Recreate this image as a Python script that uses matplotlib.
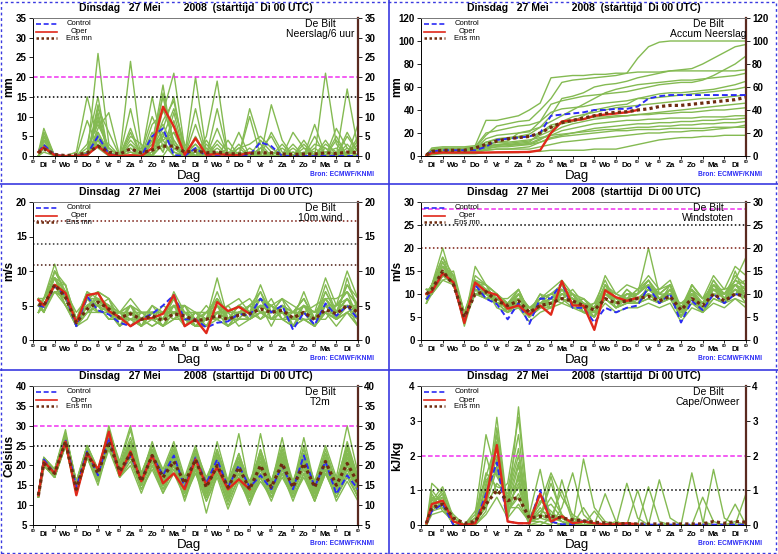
import numpy as np
import matplotlib
matplotlib.use('Agg')
import matplotlib.pyplot as plt
from matplotlib.lines import Line2D
from matplotlib.patches import Rectangle

plt.rcParams['font.family'] = ['Liberation Sans', 'DejaVu Sans']
plt.rcParams['font.weight'] = 'bold'

# forecast steps (hours after Di 00 UTC)
HOURS = [6] + list(range(12, 361, 12))
DAYS = ['Di', 'Wo', 'Do', 'Vr', 'Za', 'Zo', 'Ma', 'Di', 'Wo', 'Do', 'Vr', 'Za', 'Zo', 'Ma', 'Di']
TITLE = 'Dinsdag   27 Mei        2008  (starttijd  Di 00 UTC)'

# --- Neerslag/6 uur (mm) ---
precip_members = [
    [1, 5, 0, 0, 0, 2, 8, 2, 0, 3, 1, 0, 6, 3, 0, 2, 0, 1, 0, 0, 0, 4, 1, 0, 0, 0, 0, 3, 1, 0, 2],
    [1, 7, 0, 0, 0, 0, 26, 3, 0, 1, 0, 2, 9, 14, 1, 0, 3, 0, 0, 0, 2, 0, 0, 0, 1, 0, 0, 0, 0, 2, 0],
    [0, 3, 0, 0, 1, 15, 4, 0, 0, 0, 0, 4, 15, 3, 0, 8, 0, 0, 0, 1, 0, 0, 0, 0, 0, 3, 0, 1, 0, 0, 0],
    [1, 4, 0, 0, 0, 0, 12, 6, 0, 24, 2, 0, 3, 0, 1, 0, 5, 19, 0, 0, 0, 0, 1, 0, 0, 0, 0, 0, 0, 5, 1],
    [0, 6, 0, 0, 0, 1, 3, 0, 0, 2, 0, 8, 11, 21, 2, 0, 0, 0, 4, 0, 0, 0, 0, 2, 0, 0, 5, 0, 0, 0, 0],
    [1, 2, 0, 0, 0, 0, 6, 1, 0, 0, 0, 0, 3, 1, 0, 20, 1, 0, 0, 0, 12, 3, 0, 0, 0, 0, 0, 0, 0, 1, 0],
    [0, 5, 0, 0, 0, 3, 15, 0, 0, 5, 3, 0, 5, 12, 3, 0, 0, 0, 0, 0, 0, 0, 13, 4, 0, 0, 0, 21, 3, 0, 0],
    [1, 3, 0, 0, 0, 0, 10, 0, 0, 12, 0, 15, 2, 6, 0, 3, 0, 2, 0, 0, 0, 0, 0, 0, 6, 2, 0, 0, 0, 17, 2],
    [0, 6, 0, 0, 0, 0, 7, 11, 0, 0, 2, 0, 0, 4, 0, 1, 0, 12, 0, 0, 0, 0, 0, 0, 0, 0, 0, 0, 4, 0, 0],
    [1, 4, 0, 0, 0, 9, 2, 0, 0, 0, 0, 3, 18, 1, 0, 0, 0, 0, 0, 6, 0, 0, 0, 0, 0, 0, 8, 0, 0, 0, 3],
    [0, 1, 0, 0, 0, 0, 13, 0, 0, 7, 0, 6, 1, 9, 0, 2, 0, 0, 0, 0, 0, 2, 5, 0, 0, 0, 0, 0, 7, 2, 0],
    [1, 5, 0, 0, 0, 0, 4, 0, 0, 0, 0, 0, 16, 3, 0, 0, 0, 3, 0, 0, 10, 0, 0, 0, 3, 0, 0, 0, 0, 0, 0],
    [0, 3, 0, 0, 0, 1, 9, 2, 0, 4, 1, 10, 4, 0, 0, 12, 0, 0, 0, 0, 0, 0, 0, 0, 0, 0, 0, 4, 0, 0, 4],
    [1, 2, 0, 0, 0, 0, 5, 0, 0, 0, 0, 2, 7, 15, 0, 0, 4, 0, 0, 2, 0, 0, 0, 0, 0, 0, 2, 0, 0, 0, 0],
    [0, 4, 0, 0, 0, 0, 11, 0, 0, 2, 0, 0, 12, 4, 0, 0, 0, 7, 0, 0, 0, 0, 0, 0, 0, 0, 0, 0, 0, 0, 0],
    [1, 3, 0, 0, 0, 0, 3, 0, 0, 0, 0, 5, 1, 11, 0, 5, 0, 0, 0, 0, 0, 0, 0, 0, 0, 4, 0, 0, 0, 0, 0],
    [0, 2, 0, 0, 0, 0, 5, 1, 0, 3, 0, 2, 4, 6, 1, 3, 0, 1, 0, 2, 3, 5, 2, 0, 1, 0, 3, 2, 0, 6, 1],
    [1, 4, 0, 0, 0, 1, 9, 2, 0, 1, 0, 4, 8, 2, 0, 0, 1, 0, 2, 0, 1, 0, 6, 1, 0, 2, 1, 0, 5, 0, 8],
    [0, 3, 0, 0, 0, 0, 6, 0, 0, 0, 1, 3, 5, 3, 0, 1, 0, 4, 1, 0, 0, 2, 0, 3, 0, 1, 0, 2, 0, 3, 0],
    [1, 5, 0, 0, 0, 0, 4, 0, 0, 6, 0, 1, 6, 2, 0, 0, 2, 0, 0, 3, 0, 1, 0, 0, 2, 0, 0, 1, 2, 0, 5],
]
precip_control = [1, 2.8, 0.3, 0, 0, 0.5, 5, 0.5, 0, 0, 0, 5, 7, 0.2, 0, 2, 0, 0, 0, 0,
                  0.2, 3.5, 2.5, 0, 0, 0, 0, 0, 0, 0, 0]
precip_oper = [1, 2.2, 0.2, 0, 0, 0.3, 2.5, 0.3, 0, 0.2, 0, 2, 12.5, 7.5, 0.3, 4.5, 0.3, 0.5, 0.3, 0.2, 0.8]
precip_mean = [0.8, 1.8, 0.4, 0.1, 0.3, 0.8, 2.5, 1.0, 0.5, 1.8, 0.8, 1.5, 2.5, 2.5, 1.0, 1.3, 0.8, 1.0,
               0.6, 0.5, 0.7, 0.8, 0.8, 0.5, 0.4, 0.5, 0.5, 0.8, 0.6, 1.0, 0.8]

# --- Accum Neerslag (mm) ---
accum_members = [
    [1, 5, 6, 6, 6, 7, 18, 26, 28, 30, 31, 40, 50, 64, 66, 67, 68, 69, 70, 72, 85, 95, 99, 100, 100, 100, 100, 100, 100, 100, 100],
    [1, 4, 5, 5, 5, 6, 12, 15, 16, 17, 19, 25, 35, 50, 52, 55, 60, 62, 63, 65, 68, 70, 72, 74, 75, 76, 80, 85, 90, 95, 97],
    [1, 7, 8, 8, 8, 9, 31, 31, 33, 35, 40, 46, 68, 69, 70, 70, 71, 71, 72, 72, 73, 73, 73, 74, 74, 74, 74, 74, 74, 74, 75],
    [0, 3, 4, 4, 4, 5, 10, 12, 13, 20, 22, 25, 30, 35, 40, 45, 50, 55, 58, 60, 62, 63, 64, 65, 66, 66, 67, 68, 69, 70, 72],
    [1, 5, 6, 6, 6, 6, 15, 18, 19, 20, 21, 30, 45, 48, 50, 52, 53, 54, 55, 56, 58, 60, 62, 63, 64, 64, 66, 70, 75, 80, 87],
    [0, 2, 3, 3, 3, 4, 8, 10, 10, 11, 12, 20, 25, 28, 30, 35, 40, 42, 44, 45, 50, 52, 54, 55, 55, 56, 57, 58, 60, 62, 65],
    [1, 6, 7, 7, 7, 8, 20, 22, 24, 26, 27, 30, 38, 41, 42, 43, 45, 46, 47, 48, 50, 50, 51, 52, 53, 54, 55, 56, 57, 58, 60],
    [1, 4, 5, 5, 5, 5, 9, 10, 11, 12, 13, 18, 22, 30, 34, 36, 38, 40, 42, 43, 44, 45, 46, 47, 48, 49, 50, 50, 51, 52, 53],
    [0, 3, 4, 4, 4, 4, 6, 8, 9, 10, 10, 14, 20, 25, 28, 30, 32, 33, 34, 35, 36, 37, 38, 39, 40, 41, 42, 43, 44, 45, 46],
    [1, 5, 6, 6, 6, 7, 12, 14, 15, 16, 17, 20, 27, 29, 30, 32, 34, 34, 35, 35, 36, 36, 37, 37, 38, 38, 39, 40, 40, 41, 42],
    [1, 4, 5, 5, 5, 5, 8, 9, 10, 10, 11, 15, 18, 22, 24, 26, 28, 29, 30, 31, 31, 32, 32, 33, 33, 33, 34, 34, 34, 35, 35],
    [0, 2, 3, 3, 3, 3, 5, 6, 6, 7, 8, 12, 16, 18, 20, 22, 24, 25, 26, 27, 28, 28, 29, 29, 30, 30, 31, 31, 32, 32, 33],
    [1, 5, 6, 6, 6, 6, 10, 12, 12, 13, 14, 16, 18, 19, 20, 21, 22, 23, 23, 24, 25, 25, 26, 26, 27, 27, 28, 28, 29, 29, 30],
    [0, 3, 4, 4, 4, 4, 5, 6, 6, 6, 6, 8, 10, 12, 13, 14, 15, 16, 17, 18, 19, 20, 20, 21, 21, 22, 22, 23, 24, 25, 27],
    [0, 1, 2, 2, 2, 2, 3, 3, 3, 3, 4, 4, 5, 5, 5, 5, 6, 6, 6, 8, 10, 12, 14, 15, 16, 16, 17, 17, 18, 18, 18],
    [1, 4, 5, 5, 5, 5, 7, 8, 8, 9, 10, 12, 15, 17, 18, 19, 20, 21, 22, 22, 23, 23, 23, 24, 24, 24, 24, 25, 25, 25, 25],
]
accum_control = [1, 4, 5, 5, 5, 5, 8, 14, 15, 16, 17, 20, 35, 36, 37, 38, 40, 40, 41, 41,
                 43, 50, 52, 53, 53, 53, 53, 53, 53, 53, 53]
accum_oper = [0.5, 2.5, 3, 3, 3, 3, 3, 3.2, 3.3, 3.4, 3.5, 5, 20, 30, 31, 32, 35, 36, 37, 38, 40]
accum_mean = [1, 4, 5, 5, 5, 7, 10, 13, 15, 16, 17, 20, 25, 29, 31, 33, 35, 37, 38, 38.5,
              40, 41, 43, 44, 44, 45, 46, 47, 48, 49, 51]

# --- 10m wind (m/s) ---
wind_members = [
    [5, 5, 9, 7, 3, 6, 6, 4, 3, 5, 4, 3, 4, 5, 5, 3, 4, 6, 3, 5, 4, 6, 5, 4, 3, 5, 3, 6, 4, 6, 4],
    [4, 6, 11, 6, 2, 5, 6, 5, 4, 3, 4, 4, 2, 4, 3, 2, 3, 4, 5, 3, 5, 7, 3, 5, 4, 3, 2, 4, 5, 7, 3],
    [6, 5, 7, 7, 3, 7, 4, 5, 3, 4, 2, 5, 4, 3, 4, 4, 2, 5, 2, 4, 3, 5, 4, 6, 2, 5, 4, 5, 3, 4, 5],
    [5, 4, 8, 5, 2, 4, 7, 6, 2, 5, 3, 3, 3, 6, 2, 3, 5, 3, 4, 5, 6, 4, 6, 3, 4, 6, 3, 7, 4, 5, 2],
    [5, 6, 9, 6, 3, 5, 5, 3, 4, 6, 4, 4, 2, 4, 5, 2, 3, 9, 3, 4, 4, 8, 4, 5, 2, 4, 3, 5, 5, 10, 6],
    [4, 5, 8, 8, 2, 3, 6, 4, 3, 3, 3, 2, 3, 5, 4, 3, 2, 4, 2, 3, 3, 4, 3, 4, 3, 3, 2, 4, 3, 4, 3],
    [6, 4, 10, 7, 4, 6, 5, 5, 2, 4, 2, 4, 4, 3, 3, 2, 4, 3, 5, 6, 4, 5, 5, 6, 5, 4, 3, 6, 4, 8, 5],
    [5, 5, 7, 6, 2, 4, 4, 4, 3, 5, 3, 5, 3, 7, 4, 3, 3, 5, 3, 4, 5, 3, 4, 4, 3, 5, 4, 9, 5, 6, 4],
    [5, 6, 9, 5, 3, 6, 7, 4, 4, 2, 4, 3, 5, 4, 2, 4, 4, 6, 4, 2, 3, 6, 5, 3, 3, 7, 3, 4, 3, 5, 3],
    [4, 5, 8, 7, 2, 5, 5, 6, 3, 4, 3, 3, 2, 5, 3, 2, 2, 4, 3, 5, 4, 5, 2, 5, 4, 4, 5, 6, 6, 7, 5],
    [6, 4, 7, 6, 3, 5, 6, 4, 2, 3, 2, 4, 3, 4, 4, 3, 3, 3, 2, 4, 3, 4, 4, 4, 2, 3, 3, 4, 2, 4, 2],
    [5, 5, 8, 7, 2, 6, 4, 5, 4, 5, 3, 3, 4, 6, 3, 3, 4, 5, 3, 3, 5, 6, 3, 5, 3, 5, 2, 5, 4, 6, 4],
    [5, 6, 9, 6, 3, 4, 5, 3, 3, 4, 4, 4, 2, 3, 5, 4, 3, 4, 4, 4, 4, 3, 5, 3, 2, 4, 3, 3, 5, 5, 3],
    [4, 5, 7, 5, 2, 5, 6, 5, 3, 3, 3, 2, 3, 5, 3, 2, 3, 6, 3, 5, 3, 5, 4, 5, 4, 5, 4, 6, 3, 9, 4],
    [6, 6, 10, 8, 3, 6, 5, 4, 4, 5, 2, 4, 4, 4, 4, 3, 2, 4, 4, 4, 4, 6, 3, 4, 3, 4, 2, 5, 4, 5, 5],
    [5, 4, 8, 6, 2, 5, 6, 4, 3, 4, 3, 3, 3, 5, 2, 4, 3, 5, 3, 4, 5, 4, 4, 4, 4, 6, 3, 7, 4, 6, 3],
    [6, 5, 9, 8, 3, 7, 6, 5, 3, 4, 3, 4, 3, 5, 4, 3, 3, 5, 4, 5, 4, 5, 4, 5, 3, 5, 3, 6, 4, 6, 4],
    [4, 6, 8, 6, 2, 4, 5, 4, 4, 3, 3, 3, 2, 4, 3, 3, 4, 4, 3, 3, 3, 4, 3, 4, 2, 4, 2, 4, 3, 5, 3],
    [5, 4, 10, 7, 2, 6, 6, 5, 3, 5, 4, 3, 3, 6, 4, 2, 3, 6, 3, 4, 5, 6, 4, 5, 3, 5, 4, 5, 5, 7, 5],
    [5, 5, 8, 5, 3, 5, 4, 4, 2, 4, 2, 4, 4, 4, 3, 3, 2, 4, 2, 4, 4, 5, 5, 4, 3, 4, 3, 5, 3, 5, 3],
    [6, 6, 9, 7, 2, 6, 7, 6, 4, 4, 3, 4, 3, 5, 3, 4, 3, 7, 3, 5, 4, 7, 4, 6, 4, 6, 3, 8, 4, 8, 6],
    [4, 5, 7, 6, 2, 4, 5, 3, 3, 3, 2, 3, 2, 3, 3, 2, 2, 3, 2, 3, 3, 4, 3, 3, 2, 3, 2, 4, 3, 4, 2],
]
wind_control = [5, 4.8, 7.8, 6.5, 2, 6.3, 4.3, 3.7, 2.5, 2, 3, 3.8, 5, 6.5, 3, 3, 1.8, 2.5, 2.7, 3.8,
                3.5, 6, 4, 5, 1.5, 4, 2.2, 5.3, 3.5, 5, 3]
wind_oper = [5.8, 5, 8, 6.8, 2.5, 6.5, 6.8, 4.2, 3.3, 2, 3, 3.2, 3.8, 6.5, 2, 3, 1, 5.5, 4.2, 4.8, 3.8]
wind_mean = [5.2, 5, 8, 6.2, 2.5, 4.5, 5.5, 4.5, 3.2, 3.8, 3, 3.5, 2.8, 3.8, 3.5, 2.8, 3, 3.5, 3, 3.6,
             3.8, 4.5, 4, 4.3, 3.2, 4, 3, 4.4, 3.8, 5, 4]

# --- Windstoten (m/s) ---
gust_members = [
    [9, 11, 16, 13, 5, 12, 10, 9, 7, 9, 6, 8, 9, 10, 9, 7, 6, 10, 8, 9, 8, 12, 9, 11, 6, 10, 7, 11, 9, 11, 10],
    [10, 12, 20, 12, 4, 13, 11, 8, 8, 10, 7, 7, 7, 11, 8, 8, 5, 12, 9, 8, 10, 20, 10, 12, 5, 9, 8, 12, 10, 14, 12],
    [8, 10, 13, 14, 6, 11, 9, 10, 6, 8, 5, 9, 8, 9, 10, 6, 7, 9, 7, 10, 9, 10, 8, 10, 7, 11, 6, 9, 8, 12, 9],
    [11, 11, 15, 12, 4, 16, 12, 8, 7, 9, 6, 8, 10, 12, 8, 9, 6, 11, 10, 9, 11, 13, 9, 9, 8, 10, 8, 13, 10, 10, 11],
    [9, 12, 17, 13, 5, 10, 10, 9, 9, 11, 6, 10, 9, 8, 10, 7, 8, 13, 8, 11, 9, 11, 11, 12, 6, 12, 9, 11, 9, 13, 18],
    [10, 10, 14, 15, 6, 12, 11, 7, 6, 7, 5, 7, 8, 10, 9, 6, 6, 9, 7, 8, 8, 9, 8, 9, 5, 8, 7, 10, 8, 9, 8],
    [8, 11, 15, 13, 3, 11, 9, 9, 8, 9, 7, 8, 7, 11, 8, 8, 7, 10, 9, 9, 10, 12, 10, 10, 7, 9, 6, 12, 9, 11, 10],
    [10, 12, 16, 12, 5, 13, 12, 10, 7, 10, 6, 9, 10, 9, 11, 8, 6, 11, 8, 10, 9, 10, 9, 11, 6, 10, 8, 11, 10, 12, 13],
    [9, 10, 14, 14, 4, 11, 10, 8, 8, 8, 5, 8, 8, 10, 9, 7, 5, 12, 7, 9, 11, 12, 8, 12, 7, 11, 7, 10, 8, 15, 9],
    [11, 11, 15, 13, 6, 10, 11, 9, 7, 10, 7, 7, 9, 12, 8, 9, 7, 10, 9, 8, 8, 11, 10, 9, 8, 9, 8, 13, 9, 10, 12],
    [9, 12, 18, 12, 5, 12, 9, 10, 6, 9, 6, 10, 7, 10, 10, 6, 6, 11, 8, 10, 10, 13, 9, 10, 5, 12, 9, 11, 11, 12, 10],
    [10, 10, 14, 12, 4, 11, 10, 8, 8, 8, 5, 7, 8, 9, 7, 7, 5, 9, 7, 8, 9, 10, 8, 11, 6, 10, 6, 9, 8, 11, 8],
    [8, 11, 15, 13, 5, 13, 11, 9, 7, 11, 6, 9, 10, 11, 9, 8, 7, 12, 10, 9, 9, 11, 9, 10, 7, 9, 7, 12, 9, 13, 11],
    [10, 12, 16, 14, 6, 11, 10, 9, 8, 9, 7, 8, 8, 9, 8, 7, 6, 10, 8, 10, 10, 12, 10, 12, 6, 11, 8, 10, 10, 12, 10],
    [9, 11, 15, 12, 4, 12, 12, 8, 6, 10, 5, 8, 9, 10, 9, 8, 6, 11, 9, 9, 8, 10, 8, 11, 7, 10, 7, 11, 9, 11, 9],
    [11, 10, 14, 13, 5, 10, 9, 10, 7, 8, 6, 9, 8, 11, 10, 7, 8, 10, 8, 11, 9, 11, 9, 10, 5, 10, 8, 12, 10, 12, 11],
    [10, 11, 16, 14, 5, 12, 11, 9, 7, 9, 6, 8, 9, 11, 9, 7, 6, 11, 8, 9, 9, 11, 9, 11, 6, 10, 8, 11, 9, 12, 10],
    [9, 12, 15, 13, 4, 11, 10, 8, 6, 8, 5, 7, 8, 9, 8, 6, 5, 9, 7, 8, 8, 9, 8, 9, 5, 8, 6, 10, 8, 10, 9],
    [11, 10, 17, 12, 6, 13, 12, 10, 8, 10, 7, 9, 10, 12, 10, 8, 7, 12, 9, 10, 10, 13, 10, 12, 7, 11, 9, 12, 10, 13, 12],
    [8, 11, 14, 13, 4, 10, 9, 8, 7, 7, 4, 6, 7, 8, 7, 6, 5, 8, 6, 7, 7, 8, 7, 8, 4, 7, 6, 8, 7, 9, 7],
    [10, 12, 18, 14, 5, 14, 12, 10, 8, 11, 6, 9, 11, 13, 10, 9, 7, 14, 10, 12, 11, 14, 11, 13, 7, 12, 9, 14, 11, 16, 14],
    [9, 10, 13, 12, 5, 11, 10, 9, 7, 9, 5, 8, 8, 10, 9, 7, 6, 10, 8, 9, 8, 10, 9, 10, 6, 9, 7, 11, 9, 11, 10],
]
gust_control = [8.8, 10.5, 14.5, 12.5, 4, 12, 9, 7.8, 4.5, 8, 3.5, 9, 9, 12.5, 7, 7, 3.8, 7, 6, 7,
                7.5, 11.5, 8, 10, 3.8, 8.5, 6.5, 10, 8, 10, 9.5]
gust_oper = [10, 10.5, 14.5, 12.5, 3.7, 12.5, 10.5, 9.8, 6.8, 7.5, 5.5, 7.5, 5.5, 12.8, 7.5, 7.5, 2.2,
             10.8, 9.3, 8.5, 9.2]
gust_mean = [10, 11, 15, 12, 5, 10, 10.5, 8.5, 7.5, 8.5, 6, 7.5, 8, 9, 8.5, 7.5, 6.5, 9, 8, 8.5,
             9, 9.5, 8.5, 9.5, 6.5, 9, 7.5, 10, 8.5, 10, 9.5]

# --- T2m (Celsius) ---
t2m_members = [
    [12, 21, 18, 27, 15, 24, 18, 27, 19, 25, 17, 23, 17, 22, 15, 22, 14, 20, 14, 19, 13, 20, 14, 21, 15, 22, 14, 21, 15, 22, 15],
    [13, 22, 19, 28, 16, 25, 19, 29, 21, 30, 18, 25, 19, 26, 17, 25, 16, 24, 15, 23, 15, 24, 16, 25, 16, 24, 16, 25, 17, 30, 18],
    [12, 20, 17, 25, 13, 22, 16, 24, 17, 21, 14, 19, 13, 18, 12, 18, 11, 17, 9, 16, 11, 16, 12, 17, 12, 17, 11, 18, 12, 17, 12],
    [13, 21, 18, 26, 14, 23, 17, 26, 18, 23, 15, 22, 16, 21, 14, 21, 13, 19, 12, 20, 13, 19, 13, 20, 14, 20, 13, 20, 14, 20, 14],
    [12, 22, 19, 29, 15, 25, 18, 30, 20, 26, 16, 24, 17, 24, 15, 23, 15, 22, 14, 21, 14, 22, 15, 22, 15, 27, 15, 22, 16, 24, 17],
    [13, 20, 17, 25, 13, 22, 15, 25, 17, 20, 13, 20, 13, 20, 11, 19, 8, 18, 10, 17, 10, 17, 11, 18, 12, 18, 12, 19, 11, 16, 11],
    [12, 21, 18, 27, 14, 24, 19, 27, 19, 24, 16, 23, 15, 22, 14, 22, 13, 21, 13, 19, 12, 21, 14, 23, 13, 21, 13, 21, 14, 23, 15],
    [13, 22, 18, 28, 15, 24, 18, 28, 19, 25, 17, 24, 18, 23, 16, 24, 17, 23, 16, 22, 16, 23, 15, 27, 14, 22, 14, 22, 15, 21, 16],
    [12, 20, 17, 26, 14, 23, 17, 26, 18, 24, 15, 21, 14, 21, 13, 20, 12, 19, 12, 18, 12, 18, 12, 19, 13, 19, 12, 20, 13, 19, 13],
    [13, 21, 18, 27, 15, 24, 19, 28, 20, 29, 17, 26, 18, 25, 15, 24, 15, 26, 16, 28, 14, 28, 15, 22, 14, 21, 13, 22, 14, 25, 16],
    [12, 21, 18, 26, 14, 23, 17, 26, 18, 22, 15, 22, 15, 20, 14, 20, 12, 20, 12, 18, 11, 18, 13, 20, 13, 20, 14, 20, 13, 20, 14],
    [13, 22, 19, 27, 16, 24, 18, 27, 19, 26, 17, 23, 17, 24, 16, 23, 16, 21, 14, 21, 15, 22, 14, 24, 15, 25, 15, 24, 16, 23, 16],
    [12, 20, 18, 25, 14, 23, 16, 25, 18, 23, 15, 21, 16, 21, 13, 19, 13, 18, 11, 20, 13, 20, 13, 19, 12, 18, 11, 19, 12, 18, 12],
    [13, 21, 17, 26, 14, 23, 18, 27, 19, 24, 16, 22, 16, 23, 14, 21, 14, 22, 13, 20, 13, 21, 14, 22, 14, 21, 13, 21, 14, 22, 15],
    [12, 21, 19, 28, 15, 25, 18, 29, 20, 25, 16, 24, 17, 22, 15, 22, 14, 23, 15, 22, 14, 23, 15, 21, 16, 22, 15, 23, 15, 26, 17],
    [13, 22, 18, 27, 15, 24, 17, 26, 19, 24, 16, 22, 15, 22, 14, 21, 13, 20, 13, 20, 12, 20, 14, 21, 13, 22, 13, 20, 14, 21, 14],
    [12, 21, 18, 27, 14, 24, 18, 28, 19, 24, 16, 23, 16, 23, 15, 22, 14, 21, 14, 21, 13, 21, 14, 21, 14, 21, 13, 21, 14, 22, 15],
    [13, 20, 17, 26, 15, 23, 17, 25, 18, 22, 15, 21, 15, 20, 13, 20, 12, 19, 13, 18, 12, 19, 13, 20, 13, 20, 12, 20, 13, 19, 14],
    [12, 22, 19, 28, 16, 25, 19, 28, 20, 27, 18, 25, 18, 25, 16, 24, 16, 24, 16, 23, 15, 23, 16, 24, 15, 23, 15, 23, 16, 25, 17],
    [13, 21, 18, 26, 14, 23, 17, 26, 18, 23, 15, 22, 16, 22, 14, 21, 13, 22, 14, 21, 13, 22, 14, 22, 14, 21, 14, 22, 14, 23, 16],
    [12, 20, 17, 25, 13, 22, 16, 25, 17, 22, 14, 20, 14, 19, 12, 19, 11, 18, 11, 17, 11, 17, 12, 18, 11, 18, 11, 18, 12, 18, 12],
    [13, 22, 18, 27, 15, 24, 18, 27, 19, 25, 17, 24, 17, 24, 15, 23, 15, 23, 15, 22, 14, 24, 16, 23, 15, 23, 14, 23, 15, 24, 16],
]
t2m_control = [12.5, 21.5, 18, 26.5, 14.5, 23.5, 17.5, 27, 18, 22.5, 16.5, 22.5, 17.5, 22.5, 14.5, 22, 15.5,
               21.5, 14.5, 20, 14.5, 17.5, 14, 20, 14, 22.5, 14.5, 21, 12.8, 17.5, 14]
t2m_oper = [12.5, 21, 18, 26, 12.5, 23, 19, 28.5, 17.5, 23.5, 16, 22.5, 15.5, 18, 14, 21.5, 15, 19.5, 14, 16.5, 14]
t2m_mean = [12.5, 20.5, 18, 26, 14, 23, 18, 26, 18.5, 23, 16, 22.5, 17, 21, 15.5, 21.5, 14.5, 20, 14.5, 19.5,
            14, 20, 14.5, 20.5, 14.5, 20.5, 14.5, 21, 15, 20.5, 15.5]

# --- Cape/Onweer (members in 0.1 kJ/kg) ---
cape_members = [
    [0, 5, 8, 1, 0, 1, 6, 31, 5, 12, 1, 4, 3, 2, 1, 0, 0, 0, 1, 0, 0, 0, 0, 0, 0, 0, 0, 0, 0, 1, 0],
    [0, 10, 6, 0, 0, 0, 12, 20, 3, 34, 2, 6, 15, 8, 3, 1, 0, 0, 0, 0, 0, 0, 0, 0, 0, 0, 0, 0, 0, 0, 0],
    [1, 7, 11, 2, 0, 3, 26, 14, 8, 20, 1, 3, 2, 1, 0, 19, 5, 1, 0, 0, 0, 0, 0, 0, 0, 0, 0, 0, 0, 0, 0],
    [0, 3, 4, 1, 0, 0, 9, 23, 2, 15, 3, 16, 1, 0, 2, 1, 0, 0, 0, 12, 2, 0, 0, 0, 0, 0, 0, 0, 0, 0, 0],
    [0, 6, 9, 0, 0, 2, 15, 11, 10, 26, 1, 2, 12, 3, 0, 0, 0, 0, 0, 0, 0, 0, 13, 2, 0, 0, 0, 0, 0, 0, 0],
    [0, 8, 5, 1, 0, 0, 4, 28, 4, 8, 0, 1, 0, 5, 15, 3, 0, 0, 0, 0, 0, 0, 0, 0, 0, 15, 1, 0, 0, 0, 0],
    [1, 4, 7, 3, 0, 1, 20, 9, 12, 31, 2, 9, 3, 1, 0, 0, 4, 0, 0, 0, 0, 0, 0, 0, 0, 0, 0, 0, 0, 0, 0],
    [0, 12, 9, 1, 0, 1, 8, 17, 5, 5, 1, 2, 14, 2, 0, 1, 0, 0, 0, 0, 10, 0, 0, 0, 0, 0, 0, 16, 2, 0, 0],
    [0, 5, 6, 0, 0, 0, 11, 22, 3, 14, 0, 0, 2, 10, 1, 0, 0, 0, 0, 0, 0, 0, 0, 0, 0, 0, 0, 0, 0, 0, 9],
    [0, 9, 4, 2, 0, 4, 13, 15, 7, 18, 1, 5, 1, 0, 0, 0, 0, 0, 0, 0, 0, 0, 0, 0, 0, 0, 0, 0, 0, 6, 0],
    [1, 6, 10, 1, 0, 0, 7, 26, 4, 9, 2, 3, 8, 3, 0, 5, 0, 0, 0, 0, 0, 0, 0, 0, 0, 0, 8, 1, 0, 0, 0],
    [0, 4, 5, 0, 0, 1, 5, 12, 9, 22, 1, 1, 0, 13, 2, 0, 0, 0, 0, 0, 0, 0, 0, 0, 0, 0, 0, 0, 0, 0, 0],
    [0, 7, 8, 1, 0, 2, 10, 19, 6, 11, 0, 7, 4, 1, 0, 0, 0, 9, 1, 0, 0, 0, 0, 0, 0, 0, 0, 0, 0, 0, 0],
    [0, 5, 6, 0, 0, 0, 3, 8, 2, 6, 1, 2, 1, 0, 0, 0, 0, 0, 0, 0, 0, 0, 0, 0, 0, 0, 0, 0, 0, 0, 0],
    [0, 8, 7, 1, 0, 1, 14, 24, 5, 17, 1, 4, 6, 2, 0, 0, 0, 0, 0, 0, 0, 11, 1, 0, 0, 0, 0, 0, 0, 0, 0],
    [0, 6, 9, 2, 0, 0, 6, 16, 8, 13, 2, 3, 1, 0, 0, 0, 0, 0, 0, 0, 0, 0, 0, 0, 0, 0, 0, 0, 0, 0, 0],
]
cape_control = [0.05, 0.4, 0.6, 0, 0, 0.05, 0.9, 1.8, 0.1, 0.05, 0.05, 1.0, 0.1, 0.02, 0.02, 0.12, 0.05,
                0.03, 0.02, 0.01, 0.02, 0.01, 0.01, 0.01, 0.01, 0.01, 0.01, 0.01, 0.01, 0.01, 0.01]
cape_oper = [0.05, 0.6, 0.7, 0.1, 0, 0.05, 0.75, 2.3, 0.1, 0.05, 0.05, 0.9, 0.1, 0.25, 0.05, 0.1, 0.05,
             0.02, 0.02, 0.05, 0.02]
cape_mean = [0.05, 0.5, 0.6, 0.2, 0.05, 0.1, 0.6, 1.0, 0.7, 0.8, 0.2, 0.25, 0.25, 0.2, 0.15, 0.12, 0.08,
             0.06, 0.04, 0.04, 0.03, 0.03, 0.03, 0.03, 0.03, 0.03, 0.03, 0.1, 0.05, 0.1, 0.08]

GREEN = '#84ba52'
BLUE = '#2b2bf5'
RED = '#e0281a'
BROWN = '#6e2c10'
MAGENTA = '#f030f0'
FRAME = '#3a3ae0'

DASH = (0, (3, 1.6))
DOT = (0, (1, 1.6))

PANELS = [
    dict(members=precip_members, scale=1, ctrl=precip_control, oper=precip_oper, mean=precip_mean,
         ylim=(0, 35), ystep=5, ylabel='mm', name='Neerslag/6 uur',
         levels=[(20, MAGENTA, DASH), (15, 'black', DOT)]),
    dict(members=accum_members, scale=1, ctrl=accum_control, oper=accum_oper, mean=accum_mean,
         ylim=(0, 120), ystep=20, ylabel='mm', name='Accum Neerslag', levels=[]),
    dict(members=wind_members, scale=1, ctrl=wind_control, oper=wind_oper, mean=wind_mean,
         ylim=(0, 20), ystep=5, ylabel='m/s', name='10m wind',
         levels=[(17.2, '#7a1a10', DOT), (13.9, '#333333', DOT), (10.8, '#4a1a10', DOT)]),
    dict(members=gust_members, scale=1, ctrl=gust_control, oper=gust_oper, mean=gust_mean,
         ylim=(0, 30), ystep=5, ylabel='m/s', name='Windstoten',
         levels=[(28.5, MAGENTA, DASH), (25, 'black', DOT), (20, '#7a1a10', DOT)]),
    dict(members=t2m_members, scale=1, ctrl=t2m_control, oper=t2m_oper, mean=t2m_mean,
         ylim=(5, 40), ystep=5, ylabel='Celsius', name='T2m',
         levels=[(30, MAGENTA, DASH), (25, 'black', DOT)]),
    dict(members=cape_members, scale=0.1, ctrl=cape_control, oper=cape_oper, mean=cape_mean,
         ylim=(0, 4), ystep=1, ylabel='kJ/kg', name='Cape/Onweer',
         levels=[(2, MAGENTA, DASH), (1, 'black', DOT)]),
]

W, H = 778, 554
COL_X = [0, 388]
ROW_TOP = [18, 202, 386]
ROW_BOT = [156, 340, 525]
AX_W = 325


def padded(vals):
    return np.array(list(vals) + [np.nan] * (len(HOURS) - len(vals)), dtype=float)


def draw_panel(ax, p):
    x = np.array(HOURS) / 24.0
    for m in p['members']:
        ax.plot(x, np.array(m) * p['scale'], color=GREEN, lw=1.0, zorder=1)
    for y, col, ls in p['levels']:
        ax.axhline(y, color=col, ls=ls, lw=1.1, zorder=2)
    ax.plot(x, padded(p['ctrl']), color=BLUE, ls=DASH, lw=1.4, zorder=3)
    ax.plot(x, padded(p['oper']), color=RED, lw=1.7, zorder=4)
    ax.plot(x, padded(p['mean']), color=BROWN, ls=(0, (1, 1)), lw=2.3, zorder=5)

    y0, y1 = p['ylim']
    ax.set_xlim(0, 15)
    ax.set_ylim(y0, y1)
    ax.set_yticks(np.arange(y0, y1 + 0.001, p['ystep']))
    ax.tick_params(axis='y', left=True, right=True, labelleft=True, labelright=True,
                   labelsize=7, length=3, width=0.6, pad=1.5)

    ax.set_xticks(np.arange(0, 16))
    ax.set_xticklabels(['00'] * 16)
    ax.set_xticks(np.arange(0.5, 15, 1), minor=True)
    ax.set_xticklabels(DAYS, minor=True)
    ax.tick_params(axis='x', which='major', labelsize=3.2, length=2.5, width=0.6, pad=0.3)
    ax.tick_params(axis='x', which='minor', labelsize=5.8, length=0, pad=4.2)

    ax.spines['top'].set_color('#777777')
    ax.spines['top'].set_linewidth(0.7)
    ax.spines['left'].set_linewidth(0.7)
    ax.spines['bottom'].set_linewidth(0.7)
    ax.spines['right'].set_color('#5a2a20')
    ax.spines['right'].set_linewidth(1.6)

    # legend drawn in axes coordinates
    for yy, col, ls, lw, lab in [(0.957, BLUE, DASH, 1.2, 'Control'),
                                 (0.899, RED, '-', 1.2, 'Oper'),
                                 (0.855, BROWN, (0, (1, 1)), 1.8, 'Ens mn')]:
        ax.plot([0.008, 0.074], [yy, yy], transform=ax.transAxes, color=col, ls=ls, lw=lw, zorder=6)
        ax.text(0.142, yy, lab, transform=ax.transAxes, ha='center', va='center',
                fontsize=5.5, fontweight='normal', zorder=6)

    ax.text(0.883, 0.955, 'De Bilt', transform=ax.transAxes, ha='center', va='center',
            fontsize=7.5, fontweight='normal')
    ax.text(0.883, 0.882, p['name'], transform=ax.transAxes, ha='center', va='center',
            fontsize=7.5, fontweight='normal')
    ax.text(0.5, 1 + 10 / 138, TITLE, transform=ax.transAxes, ha='center', va='center', fontsize=7.5)
    ax.text(-0.072, 0.5, p['ylabel'], transform=ax.transAxes, rotation=90, ha='center', va='center',
            fontsize=8.5)
    ax.text(0.48, -0.142, 'Dag', transform=ax.transAxes, ha='center', va='center',
            fontsize=9.5, fontweight='normal')
    ax.text(0.95, -0.135, 'Bron: ECMWF/KNMI', transform=ax.transAxes, ha='center', va='center',
            fontsize=4.8, color=BLUE)


fig = plt.figure(figsize=(W / 100, H / 100), dpi=100)
for i, p in enumerate(PANELS):
    r, c = divmod(i, 2)
    left = (COL_X[c] + 33) / W
    bottom = 1 - ROW_BOT[r] / H
    height = (ROW_BOT[r] - ROW_TOP[r]) / H
    ax = fig.add_axes([left, bottom, AX_W / W, height])
    draw_panel(ax, p)

# panel frames
fig.add_artist(Rectangle((0.0015, 0.002), 0.996, 0.995, transform=fig.transFigure, fill=False,
                         ec=FRAME, lw=1.0, ls=(0, (2, 2))))
for yy in [1 - 183.5 / H, 1 - 369.5 / H]:
    fig.add_artist(Line2D([0, 1], [yy, yy], transform=fig.transFigure, color=FRAME, lw=1.2))
fig.add_artist(Line2D([388.5 / W, 388.5 / W], [0, 1], transform=fig.transFigure, color=FRAME, lw=1.2))

fig.savefig('out.png', dpi=100)
